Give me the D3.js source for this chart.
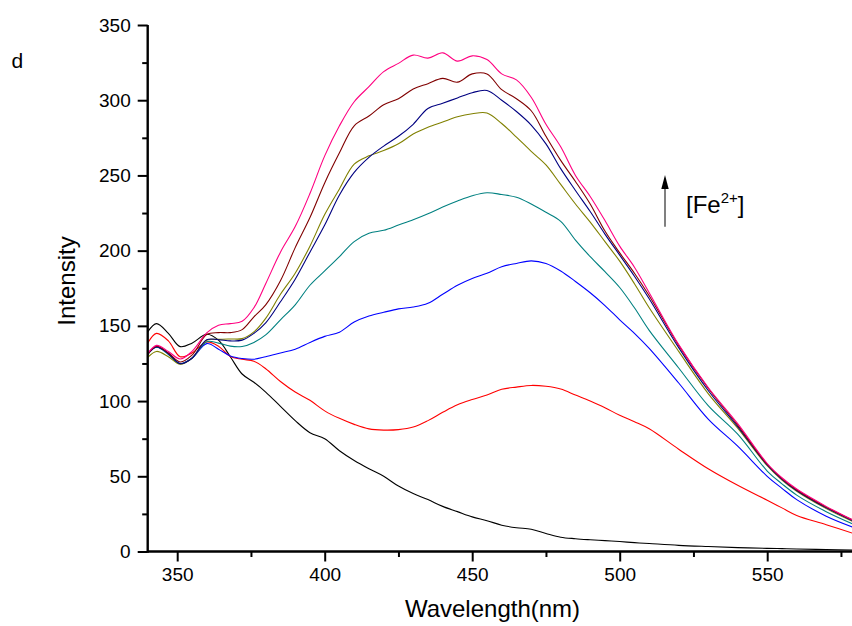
<!DOCTYPE html>
<html>
<head>
<meta charset="utf-8">
<script src="https://cdn.jsdelivr.net/npm/d3@7/dist/d3.min.js"></script>
<style>
  html, body { margin: 0; padding: 0; background: #fff; }
  svg { display: block; }
  text { font-family: "Liberation Sans", Arial, sans-serif; fill: #000; }
</style>
</head>
<body>
<svg id="chart" width="852" height="626"></svg>
<script>
// ---- data ----
const wavelengths = [340,343,347,351,355,360,364,368,372,376,380,385,390,395,400,405,410,415,420,425,430,435,440,445,450,455,460,465,470,475,480,485,490,495,500,505,510,520,530,540,550,555,560,570,580];

const curve1 = [146,151.5,145,136.2,138.5,144.4,140.5,129.5,118,112.5,106,96.5,87,79,75,67,60.5,55,50,43.5,38.5,34.5,30,26.5,23,20.5,17.5,15.8,14.8,12,9.5,8.5,7.8,7.2,6.6,5.9,5.3,4.1,3.3,2.6,2.1,1.9,1.7,1.3,1];
const curve2 = [138.6,145,140,129.5,132,139.3,136.5,129.7,127.8,126.5,121.5,113,106,100.5,93.5,88.5,84.5,81.5,80.7,81,82.7,87,92.5,97.5,101,104,107.8,109.3,110.4,109.8,108,104,100,95.6,90.5,86.3,81.6,68,55,44,34,29,24,17.8,11.5];
const curve3 = [131.5,136,132,125,128.5,138.2,134.5,130,128.3,127.8,129.5,132,134.5,139,143,145.8,152.5,156.5,159,161.3,162.5,165,171,177,181.5,185,189.3,191.5,193.2,191.5,186.5,179.5,172,163.5,154,145,135,112,88,70,50,42,34.5,23.5,15.5];
const curve4 = [131,135.8,131,124.8,128.5,139.5,138.5,136.5,136.3,139,144,154,164,177,186.5,196,206,211.5,213.5,217,220.5,224.5,229,233,236.5,238.5,237.3,235.5,231,225.5,219.5,207,196,186,175.5,162,147,122,97,78,53.5,45,37.5,26.5,17.5];
const curve5 = [129,133,129.5,124.5,128.5,140.4,141,141.3,141.5,146,155,171,185,203,224,241,257.5,263,266.5,271,277.5,282,285.5,289,291,291.5,284.5,275.5,266,257,244,231,219,206,193,178,162,133,105,82,57,47.5,40,28.5,19];
const curve6 = [131,136,131.5,124.8,128.5,140.8,140.8,140,140.5,145,152,166,181,199,217,237,252,262,269.5,276,284,294.5,298,301.5,305,306.5,300,292.5,283.5,271,254.5,240,226,211,197,183,168,135.5,107,83,57.5,48,40.5,29,19.5];
const curve7 = [131,136.4,132,126,130.5,144.2,145.5,145.5,147.5,156,164,180,202,222,245,265,283,289.5,297,301,307.5,311,314.5,312,317.5,317.5,307,301,293,276,260,246,231,213,198.5,185,170,137,108.5,84,58,48.5,41,29.5,20];
const curve8 = [131.5,137,133,128,133,145.3,150.4,151.5,153,162,178,199,216,238,263,283,299,309,319,324.5,330,328,331.5,326,329.5,327,317.5,313.5,302,284,269,250,236,220,203,189,172,137.5,109,85,58.5,49,41.5,30,20];

const seriesList = [curve1, curve2, curve3, curve4, curve5, curve6, curve7, curve8];
const seriesColors = ["#000000", "#ff0000", "#0000ff", "#008080", "#808000", "#000080", "#800000", "#ff0080"];

const xMajorTicks = [350, 400, 450, 500, 550];
const xMinorTicks = [375, 425, 475, 525, 575];
const yMajorTicks = [0, 50, 100, 150, 200, 250, 300, 350];
const yMinorTicks = [25, 75, 125, 175, 225, 275, 325];

const xTitle = "Wavelength(nm)";
const yTitle = "Intensity";
const panelLabel = "d";

// ---- layout ----
const svg = d3.select("#chart");
const x = d3.scaleLinear().domain([340, 580]).range([147.7, 855.7]);
const y = d3.scaleLinear().domain([0, 350]).range([551.5, 25]);

// curves
const line = d3.line()
  .x((d, i) => x(wavelengths[i]))
  .y(d => y(d))
  .curve(d3.curveCatmullRom.alpha(0.5));

svg.append("g").selectAll("path")
  .data(seriesList)
  .join("path")
  .attr("d", d => line(d))
  .attr("fill", "none")
  .attr("stroke", (d, i) => seriesColors[i])
  .attr("stroke-width", 1.1);

// axes
const xAxisG = svg.append("g").attr("transform", `translate(0,${y(0)})`);
xAxisG.call(d3.axisBottom(x).tickValues(xMajorTicks).tickSize(10).tickPadding(6).tickFormat(d3.format("d")));
const xMinorG = svg.append("g").attr("transform", `translate(0,${y(0)})`);
xMinorG.call(d3.axisBottom(x).tickValues(xMinorTicks).tickSize(5.5).tickFormat(""));

const yAxisG = svg.append("g").attr("transform", `translate(${x(340)},0)`);
yAxisG.call(d3.axisLeft(y).tickValues(yMajorTicks).tickSize(10).tickPadding(7).tickFormat(d3.format("d")));
const yMinorG = svg.append("g").attr("transform", `translate(${x(340)},0)`);
yMinorG.call(d3.axisLeft(y).tickValues(yMinorTicks).tickSize(5.5).tickFormat(""));

[xAxisG, xMinorG, yAxisG, yMinorG].forEach(g => {
  g.select(".domain").remove();
  g.selectAll(".tick line").attr("stroke", "#000").attr("stroke-width", 2);
  g.selectAll(".tick text").attr("font-size", 19).attr("font-family", '"Liberation Sans", Arial, sans-serif');
});

// axis lines
svg.append("line")
  .attr("x1", x(340)).attr("x2", x(580))
  .attr("y1", y(0)).attr("y2", y(0))
  .attr("stroke", "#000").attr("stroke-width", 2.4);
svg.append("line")
  .attr("x1", x(340)).attr("x2", x(340))
  .attr("y1", y(0) + 1.2).attr("y2", y(350))
  .attr("stroke", "#000").attr("stroke-width", 2.4);

// titles
svg.append("text")
  .attr("x", 492.5).attr("y", 616.5)
  .attr("text-anchor", "middle")
  .attr("font-size", 24)
  .text(xTitle);

svg.append("text")
  .attr("transform", "translate(75,281) rotate(-90)")
  .attr("text-anchor", "middle")
  .attr("font-size", 24)
  .text(yTitle);

svg.append("text")
  .attr("x", 11.5).attr("y", 68.3)
  .attr("font-size", 21)
  .text(panelLabel);

// arrow annotation
svg.append("line")
  .attr("x1", 665).attr("x2", 665)
  .attr("y1", 226.7).attr("y2", 187)
  .attr("stroke", "#808080").attr("stroke-width", 2);
svg.append("path")
  .attr("d", "M665,175 L661.3,189 L668.7,189 Z")
  .attr("fill", "#000");

const fe = svg.append("text")
  .attr("x", 686).attr("y", 212.7)
  .attr("font-size", 24);
fe.append("tspan").text("[Fe");
fe.append("tspan").attr("font-size", 15).attr("dy", -9.5).text("2+");
fe.append("tspan").attr("dy", 9.5).text("]");
</script>
</body>
</html>
